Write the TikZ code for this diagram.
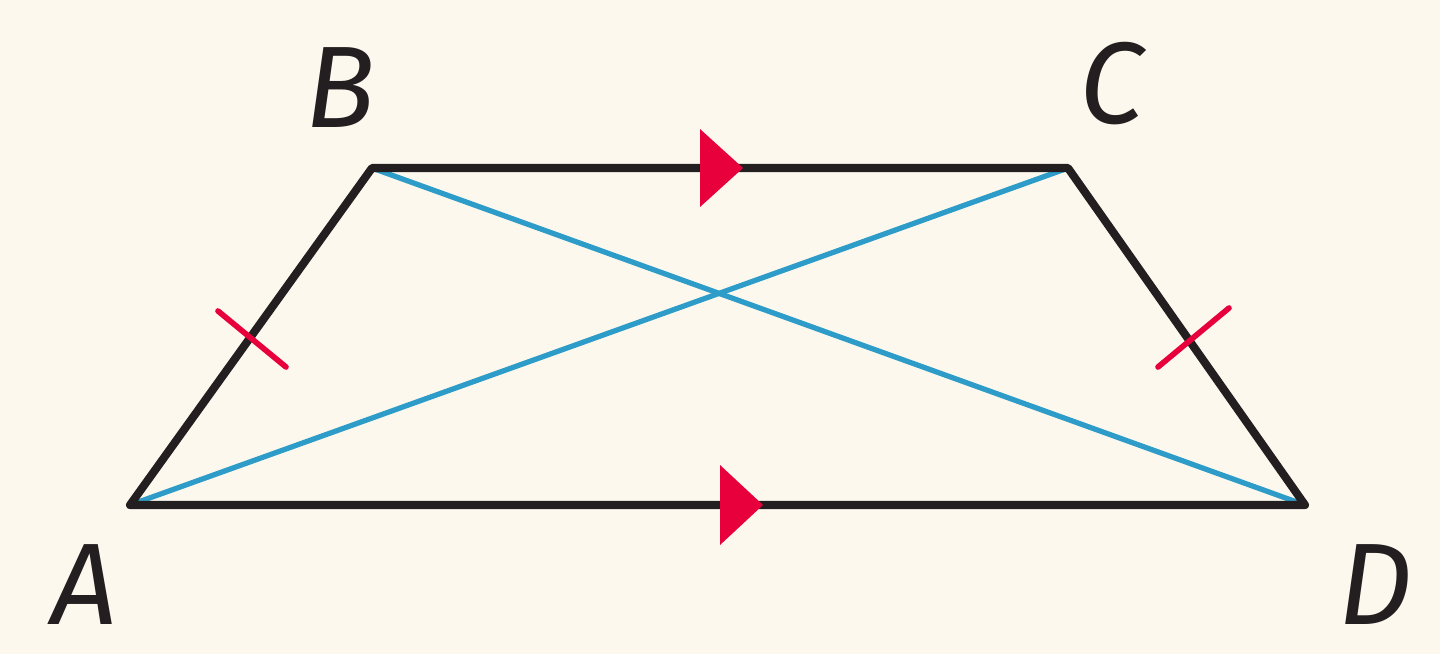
\documentclass[tikz,border=0pt]{standalone}
\usepackage{fontspec}
\setmainfont{Fira Sans}
\begin{document}
\begin{tikzpicture}[
  edge/.style={draw=edgeblack, line width=2.3pt, line cap=round, line join=round},
  diag/.style={draw=diagblue, line width=1.5pt, line cap=round},
  tick/.style={draw=markred, line width=1.6pt, line cap=round},
  arrowmark/.style={fill=markred, draw=none},
  vlabel/.style={inner sep=0pt, font=\fontsize{33}{33}\selectfont\itshape, text=edgeblack}
]
\definecolor{bg}{HTML}{FDF8EE}
\definecolor{edgeblack}{HTML}{231F20}
\definecolor{diagblue}{HTML}{2E9CC8}
\definecolor{markred}{HTML}{E8003D}
\useasboundingbox (0,0) rectangle (14.4,6.54);
\fill[bg] (0,0) rectangle (14.4,6.54);
\coordinate (A) at (1.30,1.49);
\coordinate (B) at (3.72,4.86);
\coordinate (C) at (10.68,4.86);
\coordinate (D) at (13.05,1.49);
% diagonals
\draw[diag] (B) -- (D);
\draw[diag] (A) -- (C);
% sides
\draw[edge] (A) -- (B) -- (C) -- (D) -- cycle;
% parallel marks
\fill[arrowmark] (7.00,5.25) -- (7.43,4.86) -- (7.00,4.47) -- cycle;
\fill[arrowmark] (7.20,1.89) -- (7.63,1.49) -- (7.20,1.09) -- cycle;
% congruence ticks
\coordinate (t1a) at (2.18,3.43);
\coordinate (t1b) at (2.86,2.87);
\coordinate (t2a) at (11.58,2.87);
\coordinate (t2b) at (12.29,3.46);
\draw[tick] (t1a) -- (t1b);
\draw[tick] (t2a) -- (t2b);
% labels
\node[vlabel] (lA) at (0.84,0.69) {A};
\node[vlabel] (lB) at (3.40,5.66) {B};
\node[vlabel] (lC) at (11.12,5.70) {C};
\node[vlabel] (lD) at (13.76,0.69) {D};
\end{tikzpicture}
\end{document}
